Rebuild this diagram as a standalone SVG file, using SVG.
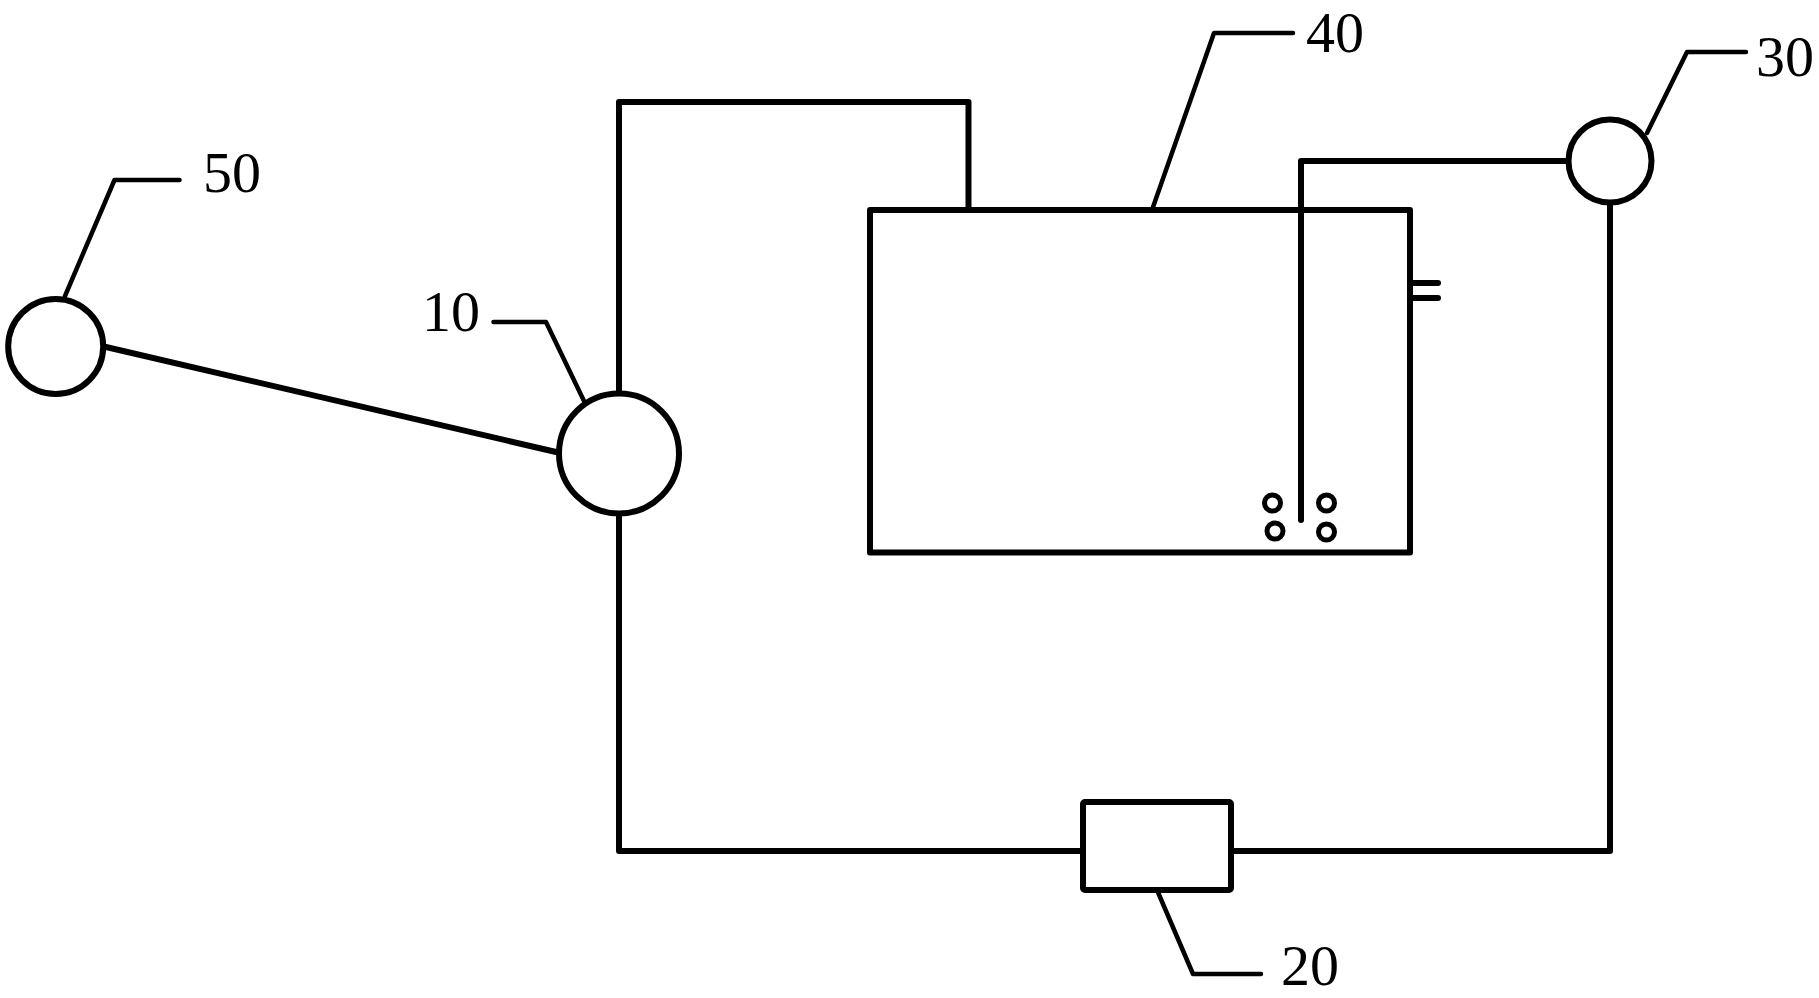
<svg xmlns="http://www.w3.org/2000/svg" width="1819" height="998" viewBox="0 0 1819 998">
<style>
.n{fill:#fff;stroke:#000;stroke-width:6}
.s{fill:#fff;stroke:#000;stroke-width:5}
.c{fill:none;stroke:#000;stroke-width:6;stroke-linecap:round;stroke-linejoin:round}
.l{fill:none;stroke:#000;stroke-width:4.500;stroke-linecap:round;stroke-linejoin:round}
text{font-family:"Liberation Serif","Times New Roman",serif;font-size:58px;fill:#000}
</style>
<rect width="1819" height="998" fill="#fff"/>
<g id="connectors">
<path class="c" d="M106 347L556 452"/>
<path class="c" d="M619 392V102H968.500V210"/>
<path class="c" d="M619 516V851H1081"/>
<path class="c" d="M1233 851H1610V205"/>
<path class="c" d="M1568 161H1301V520"/>
<path class="c" d="M1410 283H1438M1410 298H1438"/>
</g>
<g id="node-40">
<path class="c" d="M870 210H1410V552.500H870Z"/>
<circle class="s" cx="1272.500" cy="503" r="8"/>
<circle class="s" cx="1326.500" cy="503" r="8"/>
<circle class="s" cx="1275" cy="531" r="8"/>
<circle class="s" cx="1326.500" cy="532" r="8"/>
<path class="l" d="M1152 210L1214 33H1293"/>
<text x="1306" y="52">40</text>
</g>
<g id="node-50">
<circle class="n" cx="55.700" cy="346.500" r="47.500"/>
<path class="l" d="M65 296L114.500 180H179.500"/>
<text x="203" y="192">50</text>
</g>
<g id="node-10">
<circle class="n" cx="619" cy="453.500" r="60"/>
<path class="l" d="M493.500 322H546L584 401"/>
<text x="422" y="331">10</text>
</g>
<g id="node-30">
<circle class="n" cx="1610" cy="161" r="41.500"/>
<path class="l" d="M1647 133L1687 52H1746"/>
<text x="1756" y="76">30</text>
</g>
<g id="node-20">
<rect class="n" x="1083" y="802" width="148" height="88" rx="2"/>
<path class="l" d="M1157 890L1193 974H1261"/>
<text x="1281" y="985">20</text>
</g>
</svg>
